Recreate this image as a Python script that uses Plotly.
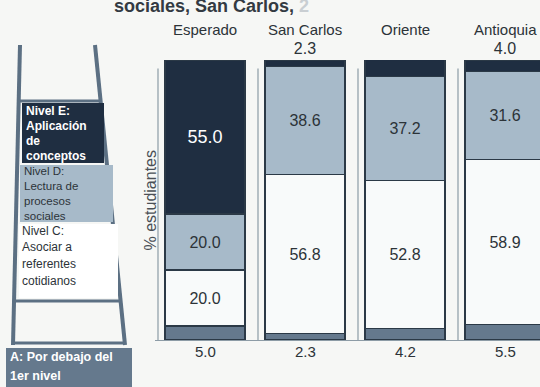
import plotly.graph_objects as go

# Niveles de desempeño por región (% de estudiantes)
categorias = ["Esperado", "San Carlos", "Oriente", "Antioquia"]
nivel_a = [5.0, 2.3, 4.2, 5.5]
nivel_c = [20.0, 56.8, 52.8, 58.9]
nivel_d = [20.0, 38.6, 37.2, 31.6]
nivel_e = [55.0, 2.3, 5.9, 4.0]

titulo = "sociales, San Carlos, "
eje_y = "% estudiantes"

# textos de la escalera de niveles, una línea por entrada
lineas_e = ["Nivel E:", "Aplicación", "de", "conceptos"]
lineas_d = ["Nivel D:", "Lectura de", "procesos", "sociales"]
lineas_c = ["Nivel C:", "Asociar a", "referentes", "cotidianos"]
lineas_a = ["A: Por debajo del", "1er nivel"]

W, H = 540, 387
L, R, T, B = 155, 0, 60, 47
PW, PH = W - L - R, H - T - B

C_E = "#1f2e41"
C_D = "#a7bac9"
C_C = "#f8fafa"
C_A = "#65798d"
C_TXT = "#2c3338"
C_LINE = "#2b3946"
FONT = "Liberation Sans, Arial, sans-serif"


def fx(px):
    return (px - L) / PW


def fy(py):
    return (H - B - py) / PH


xs = list(range(len(categorias)))
fmt = lambda v: f"{v:.1f}"

fig = go.Figure()
fig.add_bar(x=xs, y=nivel_a, marker=dict(color=C_A, line=dict(color=C_LINE, width=1.2)),
            width=0.8, hoverinfo="skip")
fig.add_bar(x=xs, y=nivel_c, marker=dict(color=C_C, line=dict(color=C_LINE, width=1.2)),
            width=0.8, text=[fmt(v) for v in nivel_c], textposition="inside",
            insidetextanchor="middle", textfont=dict(size=16, color=C_TXT, family=FONT),
            hoverinfo="skip")
fig.add_bar(x=xs, y=nivel_d, marker=dict(color=C_D, line=dict(color=C_LINE, width=1.2)),
            width=0.8, text=[fmt(v) for v in nivel_d], textposition="inside",
            insidetextanchor="middle", textfont=dict(size=16, color=C_TXT, family=FONT),
            hoverinfo="skip")
pos_e = ["inside" if v > 15 else "outside" for v in nivel_e]
fig.add_bar(x=xs, y=nivel_e, marker=dict(color=C_E, line=dict(color=C_LINE, width=1.2)),
            width=0.8, text=[fmt(v) for v in nivel_e], textposition=pos_e,
            insidetextanchor="middle", cliponaxis=False,
            insidetextfont=dict(size=18, color="white", family="Liberation Sans, Arial"),
            outsidetextfont=dict(size=16, color=C_TXT, family=FONT),
            hoverinfo="skip")

shapes = []
# separadores verticales entre columnas
for i in range(-1, len(categorias) - 1):
    shapes.append(dict(type="line", xref="x", yref="y", x0=i + 0.53, x1=i + 0.53,
                       y0=-3, y1=97, line=dict(color="#8d9ca6", width=1.2)))

# escalera de niveles
rail = dict(color="#5c7083", width=4)
rung = dict(color="#5c7083", width=3)
shapes += [
    dict(type="line", xref="paper", yref="paper", x0=fx(20), y0=fy(45), x1=fx(13), y1=fy(345), line=rail),
    dict(type="line", xref="paper", yref="paper", x0=fx(95), y0=fy(45), x1=fx(125), y1=fy(345), line=rail),
    dict(type="line", xref="paper", yref="paper", x0=fx(19), y0=fy(101), x1=fx(100), y1=fy(101), line=rung),
    dict(type="line", xref="paper", yref="paper", x0=fx(16), y0=fy(301), x1=fx(121), y1=fy(301), line=rung),
    dict(type="line", xref="paper", yref="paper", x0=fx(13), y0=fy(343), x1=fx(125), y1=fy(343), line=rung),
    dict(type="rect", xref="paper", yref="paper", x0=fx(22), y0=fy(103), x1=fx(104), y1=fy(163),
         fillcolor=C_E, line=dict(width=0)),
    dict(type="rect", xref="paper", yref="paper", x0=fx(20), y0=fy(165), x1=fx(113), y1=fy(222),
         fillcolor=C_D, line=dict(width=0)),
    dict(type="rect", xref="paper", yref="paper", x0=fx(19), y0=fy(224), x1=fx(118), y1=fy(298),
         fillcolor="#ffffff", line=dict(width=0)),
    dict(type="rect", xref="paper", yref="paper", x0=fx(6), y0=fy(348), x1=fx(132), y1=fy(390),
         fillcolor=C_A, line=dict(width=0)),
]

ann = []
# nombres de columna
for x, c in zip(xs, categorias):
    ann.append(dict(x=x, y=100, xref="x", yref="y", text=c, showarrow=False,
                    yanchor="bottom", yshift=20, font=dict(size=15, color=C_TXT, family=FONT)))
# valores del nivel A bajo cada barra
for x, v in zip(xs, nivel_a):
    ann.append(dict(x=x, y=0, xref="x", yref="y", text=fmt(v), showarrow=False,
                    yanchor="top", yshift=-1, font=dict(size=15, color=C_TXT, family=FONT)))

ann += [
    dict(xref="paper", yref="paper", x=fx(112), y=fy(6), text=titulo + "<span style='color:#c9ced2'>2</span>",
         showarrow=False, xanchor="left", yanchor="middle",
         font=dict(size=18, color="#333a42", family="Liberation Sans, Arial", weight="bold")),
    dict(xref="paper", yref="paper", x=fx(139), y=fy(200), text=eje_y, textangle=-90,
         showarrow=False, font=dict(size=16, color="#4a5056", family=FONT)),
]


def bloque(lineas, x0, y_centros, size, color, bold):
    for txt, yc in zip(lineas, y_centros):
        ann.append(dict(xref="paper", yref="paper", x=fx(x0), y=fy(yc), xanchor="left",
                        yanchor="middle", text=f"<b>{txt}</b>" if bold else txt, showarrow=False,
                        borderpad=0, font=dict(size=size, color=color, family=FONT)))


bloque(lineas_e, 25, [111, 126, 141, 156], 12, "white", True)
bloque(lineas_d, 23, [171, 186, 201, 216], 11.5, C_TXT, False)
bloque(lineas_c, 21, [231, 247, 264, 281], 12, C_TXT, False)
bloque(lineas_a, 9, [357, 376], 12.5, "white", True)

fig.update_layout(
    width=W, height=H, barmode="stack", showlegend=False,
    margin=dict(l=L, r=R, t=T, b=B),
    paper_bgcolor="#f6f7f5", plot_bgcolor="#f6f7f5",
    xaxis=dict(range=[-0.5, 3.35], showticklabels=False, showgrid=False, zeroline=False,
               showline=False, ticks=""),
    yaxis=dict(range=[0, 100], showticklabels=False, showgrid=False, zeroline=True,
               zerolinecolor="#8d9ca6", zerolinewidth=1.2, ticks=""),
    shapes=shapes, annotations=ann,
)

fig.write_html("out.html")
